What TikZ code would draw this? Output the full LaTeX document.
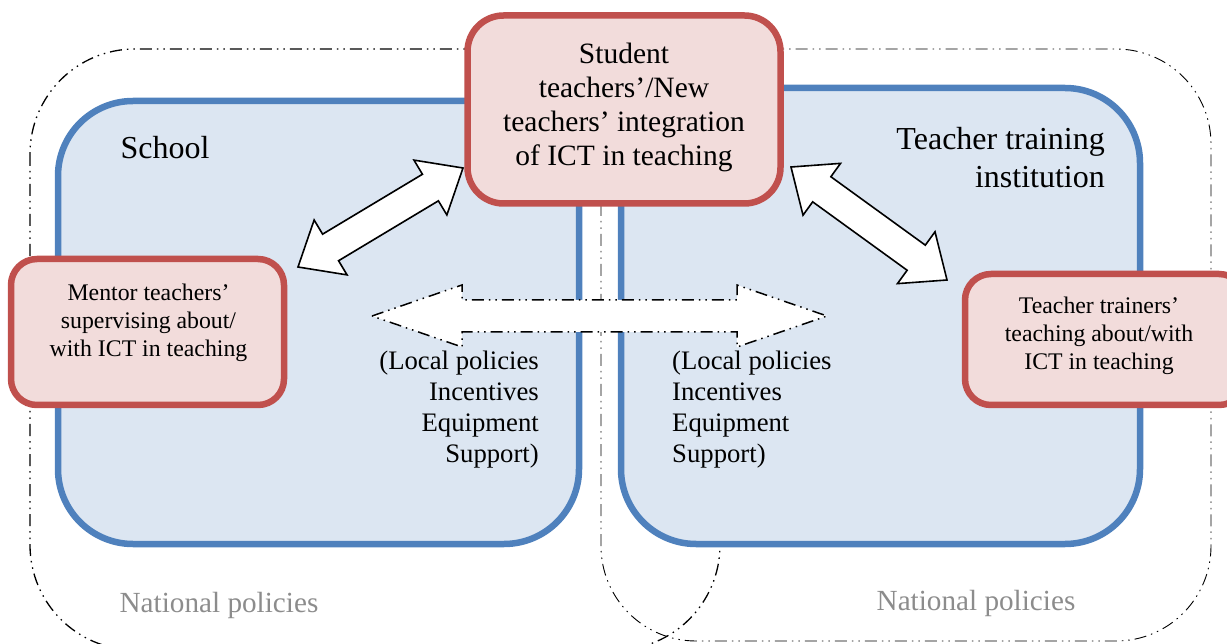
\documentclass[tikz,border=0pt]{standalone}
\usepackage{fontspec}
\setmainfont{Liberation Serif}
\usetikzlibrary{calc}
\definecolor{bluefill}{HTML}{DCE6F2}
\definecolor{blueline}{HTML}{4F81BD}
\definecolor{redfill}{HTML}{F2DCDB}
\definecolor{redline}{HTML}{C0504D}
\tikzset{
  ddot/.style={dash pattern=on 12pt off 5pt on 1.5pt off 5pt on 1.5pt off 5pt},
  outerA/.style={draw=black,line width=1.3pt,ddot,rounded corners=105pt},
  outerB/.style={draw=black,line width=.9pt,ddot,rounded corners=95pt},
  bluebox/.style={draw=blueline,fill=bluefill,line width=6.5pt,rounded corners=75pt},
  redbox/.style={draw=redline,fill=redfill,line width=6.5pt,anchor=center,inner sep=0pt,align=center},
  bigtxt/.style={font=\fontsize{29.5}{34}\selectfont,inner sep=0pt},
  hugetxt/.style={font=\fontsize{32}{38}\selectfont,inner sep=0pt},
  midtxt/.style={font=\fontsize{26.7}{31}\selectfont,inner sep=0pt},
  smalltxt/.style={font=\fontsize{23.8}{28}\selectfont},
  greytxt/.style={font=\fontsize{29.2}{34}\selectfont,text=black!45,inner sep=0pt},
  blockarrow/.style={draw=black,fill=white,line width=1.6pt,line join=miter},
}
% #1 style, #2 and #3 tips, #4 head length, #5 half head width, #6 half shaft width
\newcommand{\blockarrowpath}[6]{%
  \draw[#1] (#2)
   -- ($(#2)!#4!(#3)!#5!90:(#3)$)
   -- ($(#2)!#4!(#3)!#6!90:(#3)$)
   -- ($(#3)!#4!(#2)!#6!-90:(#2)$)
   -- ($(#3)!#4!(#2)!#5!-90:(#2)$)
   -- (#3)
   -- ($(#3)!#4!(#2)!#5!90:(#2)$)
   -- ($(#3)!#4!(#2)!#6!90:(#2)$)
   -- ($(#2)!#4!(#3)!#6!-90:(#3)$)
   -- ($(#2)!#4!(#3)!#5!-90:(#3)$)
   -- cycle;}
\begin{document}
\begin{tikzpicture}[x=1pt,y=-1pt]
\useasboundingbox (0,0) rectangle (1227,644);
\begin{scope}
\clip (0,0) rectangle (1227,644);
% national-policy outlines
\draw[outerA] (30,49) rectangle (720,650);
\draw[outerB] (601,49) rectangle (1211,641);
% organisations
\draw[bluebox] (58,101) rectangle (579,544);
\draw[bluebox] (621,88) rectangle (1140,544);
% policy arrow
\coordinate (polL) at (372,316);
\coordinate (polR) at (827,316);
\blockarrowpath{blockarrow,ddot,line width=1.5pt}{polL}{polR}{90pt}{31pt}{16pt}
% actors
\node[redbox,rounded corners=36pt,minimum width=313pt,minimum height=188pt] (student) at (624,109.5) {};
\node[bigtxt,align=center] (studenttxt) at (624,107.5) {Student\\teachers’/New\\teachers’ integration\\of ICT in teaching};
\node[redbox,rounded corners=26pt,minimum width=273pt,minimum height=146pt] (mentor) at (147.5,332) {};
\node[smalltxt,align=center] (mentortxt) at (148.5,323) {Mentor teachers’\\supervising about/\\with ICT in teaching};
\node[redbox,rounded corners=26pt,minimum width=280pt,minimum height=131pt] (trainer) at (1105,339.5) {};
\node[smalltxt,align=center] (trainertxt) at (1099,336) {Teacher trainers’\\teaching about/with\\ICT in teaching};
% exchange arrows
\coordinate (schA) at (298,267);
\coordinate (schB) at (463,168);
\coordinate (traA) at (791,167);
\coordinate (traB) at (947,280);
\blockarrowpath{blockarrow}{schA}{schB}{38pt}{32pt}{15.5pt}
\blockarrowpath{blockarrow}{traA}{traB}{38pt}{32pt}{15.5pt}
% labels
\node[hugetxt] (school) at (165,148) {School};
\node[hugetxt,align=right,anchor=east] (tti) at (1105,158) {Teacher training\\institution};
\node[midtxt,align=right,anchor=east] (polA) at (539,409.5) {(Local policies\\Incentives\\Equipment\\Support)};
\node[midtxt,align=left,anchor=west] (polB) at (672,410) {(Local policies\\Incentives\\Equipment\\Support)};
\node[greytxt] (natA) at (219,605) {National policies};
\node[greytxt] (natB) at (976,603) {National policies};
\end{scope}
\end{tikzpicture}
\end{document}
